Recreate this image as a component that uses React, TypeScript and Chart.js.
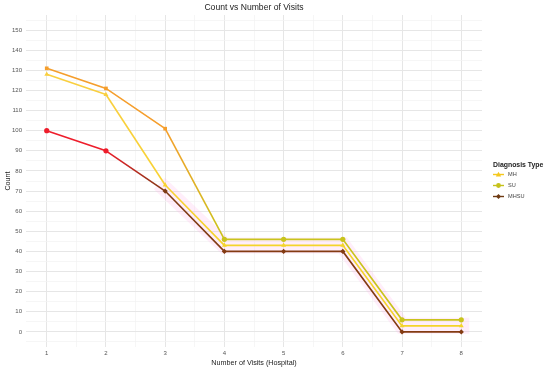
import React, { useEffect, useRef } from "react";
import { Chart, registerables } from "chart.js";

Chart.register(...registerables);

const visits = [1, 2, 3, 4, 5, 6, 7, 8];
const mhValues = [128, 118, 73, 43, 43, 43, 3, 3];
const suValues = [131, 121, 101, 46, 46, 46, 6, 6];
const mhsuValues = [100, 90, 70, 40, 40, 40, 0, 0];
const haloValues = [null, null, 71, 43, 43, 43, 3, 3];
const legendItems = ["MH", "SU", "MHSU"];

const FONT = "'Liberation Sans', Arial, sans-serif";

const mhColors = ["#F9CF3F", "#F9CF3F", "#F8D232", "#F4D42A", "#F4D42A", "#F4D42A", "#F4D42A", "#F4D42A"];
const suColors = ["#F59E2C", "#F59E2C", "#F59E2C", "#C9C41C", "#C9C41C", "#C9C41C", "#C9C41C", "#C9C41C"];
const mhsuColors = ["#EE1D2B", "#EE1D2B", "#7E3A14", "#833B12", "#833B12", "#833B12", "#833B12", "#833B12"];

export default function App() {
  const canvasRef = useRef<HTMLCanvasElement | null>(null);

  useEffect(() => {
    const canvas = canvasRef.current!;
    const c2d = canvas.getContext("2d")!;
    const segGrad = (cols: string[]) => (ctx: any) => {
      const a = cols[ctx.p0DataIndex];
      const b = cols[ctx.p1DataIndex];
      if (a === b) return a;
      const g = c2d.createLinearGradient(ctx.p0.x, ctx.p0.y, ctx.p1.x, ctx.p1.y);
      g.addColorStop(0, a);
      g.addColorStop(1, b);
      return g;
    };
    const mk = (label: string, vals: (number | null)[], cols: string[], styles: string[], radius: number, order: number) => ({
      label,
      data: vals.map((v, i) => ({ x: visits[i], y: v })),
      borderColor: cols[cols.length - 1],
      backgroundColor: cols,
      pointBackgroundColor: cols,
      pointBorderColor: cols,
      pointStyle: styles,
      pointRadius: radius,
      pointBorderWidth: 0,
      borderWidth: 1.6,
      segment: { borderColor: segGrad(cols) },
      order,
    });

    const chart = new Chart(canvas, {
      type: "line",
      data: {
        datasets: [
          {
            label: "halo",
            data: haloValues.map((v, i) => ({ x: visits[i], y: v })),
            borderColor: "rgba(255,170,230,0.2)",
            borderWidth: 16,
            pointRadius: 0,
            borderCapStyle: "square",
            order: 10,
          } as any,
          mk("MHSU", mhsuValues, mhsuColors, ["circle", "circle", "rectRot", "rectRot", "rectRot", "rectRot", "rectRot", "rectRot"], 2.6, 3),
          mk("MH", mhValues, mhColors, ["triangle", "triangle", "triangle", "triangle", "triangle", "triangle", "triangle", "triangle"], 2.8, 2),
          mk("SU", suValues, suColors, ["rect", "rect", "rect", "circle", "circle", "circle", "circle", "circle"], 2.6, 1),
        ],
      },
      options: {
        responsive: false,
        animation: false,
        layout: { padding: { left: 0, right: 68, top: 15, bottom: 0 } },
        plugins: {
          legend: { display: false },
          tooltip: { enabled: false },
          title: { display: false },
        },
        scales: {
          x: {
            type: "linear",
            min: 0.65,
            max: 8.35,
            afterBuildTicks: (s: any) => {
              const t = [];
              for (let v = 1; v <= 8.001; v += 0.5) t.push({ value: v });
              s.ticks = t;
            },
            afterFit: (s: any) => {
              s.height = 21;
            },
            ticks: {
              autoSkip: false,
              maxRotation: 0,
              padding: 3,
              color: "#555",
              font: { family: FONT, size: 6 },
              callback: (v: any) => (Number.isInteger(v) ? String(v) : ""),
            },
            grid: {
              drawTicks: false,
              color: (c: any) => (Number.isInteger(c.tick?.value) ? "#e6e6e6" : "#f2f2f2"),
              lineWidth: (c: any) => (Number.isInteger(c.tick?.value) ? 1 : 0.7),
            },
            border: { display: false },
            title: {
              display: true,
              text: "Number of Visits (Hospital)",
              color: "#222",
              font: { family: FONT, size: 7.2 },
              padding: { top: 0, bottom: 1 },
            },
          },
          y: {
            type: "linear",
            min: -7.5,
            max: 157.5,
            afterBuildTicks: (s: any) => {
              const t = [];
              for (let v = -5; v <= 155; v += 5) t.push({ value: v });
              s.ticks = t;
            },
            afterFit: (s: any) => {
              s.width = 26;
            },
            ticks: {
              autoSkip: false,
              padding: 4,
              color: "#555",
              font: { family: FONT, size: 6 },
              callback: (v: any) => (v % 10 === 0 ? String(v) : ""),
            },
            grid: {
              drawTicks: false,
              color: (c: any) => (c.tick && c.tick.value % 10 === 0 ? "#e6e6e6" : "#f2f2f2"),
              lineWidth: (c: any) => (c.tick && c.tick.value % 10 === 0 ? 1 : 0.7),
            },
            border: { display: false },
            title: {
              display: true,
              text: "Count",
              color: "#222",
              font: { family: FONT, size: 7.2 },
              padding: { top: 4, bottom: 0 },
            },
          },
        },
      } as any,
    });
    return () => chart.destroy();
  }, []);

  const icon = (name: string) => {
    if (name === "MH")
      return (
        <svg width="11" height="7" style={{ display: "block" }}>
          <line x1="0" y1="3.5" x2="11" y2="3.5" stroke="#F5C81E" strokeWidth="1.4" />
          <polygon points="5.5,0.8 8.2,5.6 2.8,5.6" fill="#F5C81E" />
        </svg>
      );
    if (name === "SU")
      return (
        <svg width="11" height="7" style={{ display: "block" }}>
          <line x1="0" y1="3.5" x2="11" y2="3.5" stroke="#C6C21A" strokeWidth="1.4" />
          <circle cx="5.5" cy="3.5" r="2.4" fill="#C6C21A" />
        </svg>
      );
    return (
      <svg width="11" height="7" style={{ display: "block" }}>
        <line x1="0" y1="3.5" x2="11" y2="3.5" stroke="#6E3A12" strokeWidth="1.4" />
        <polygon points="5.5,1 8,3.5 5.5,6 3,3.5" fill="#6E3A12" />
      </svg>
    );
  };

  return (
    <div style={{ position: "absolute", left: 0, top: 0, width: 550, height: 368, background: "#fff", fontFamily: FONT }}>
      <canvas ref={canvasRef} width={550} height={368} style={{ display: "block" }} />
      <div
        style={{
          position: "absolute",
          left: 154,
          width: 200,
          top: 2,
          textAlign: "center",
          fontSize: 8.6,
          lineHeight: "11px",
          color: "#222",
          fontFamily: FONT,
        }}
      >
        Count vs Number of Visits
      </div>
      <div style={{ position: "absolute", left: 493, top: 159.5, fontFamily: FONT }}>
        <div style={{ fontSize: 6.9, fontWeight: "bold", color: "#222", lineHeight: "9px", marginBottom: 0.5, whiteSpace: "nowrap" }}>
          Diagnosis Type
        </div>
        {legendItems.map((n) => (
          <div key={n} style={{ display: "flex", alignItems: "center", height: 11.2 }}>
            {icon(n)}
            <span style={{ fontSize: 5.6, color: "#444", marginLeft: 4, lineHeight: "9px" }}>{n}</span>
          </div>
        ))}
      </div>
    </div>
  );
}
